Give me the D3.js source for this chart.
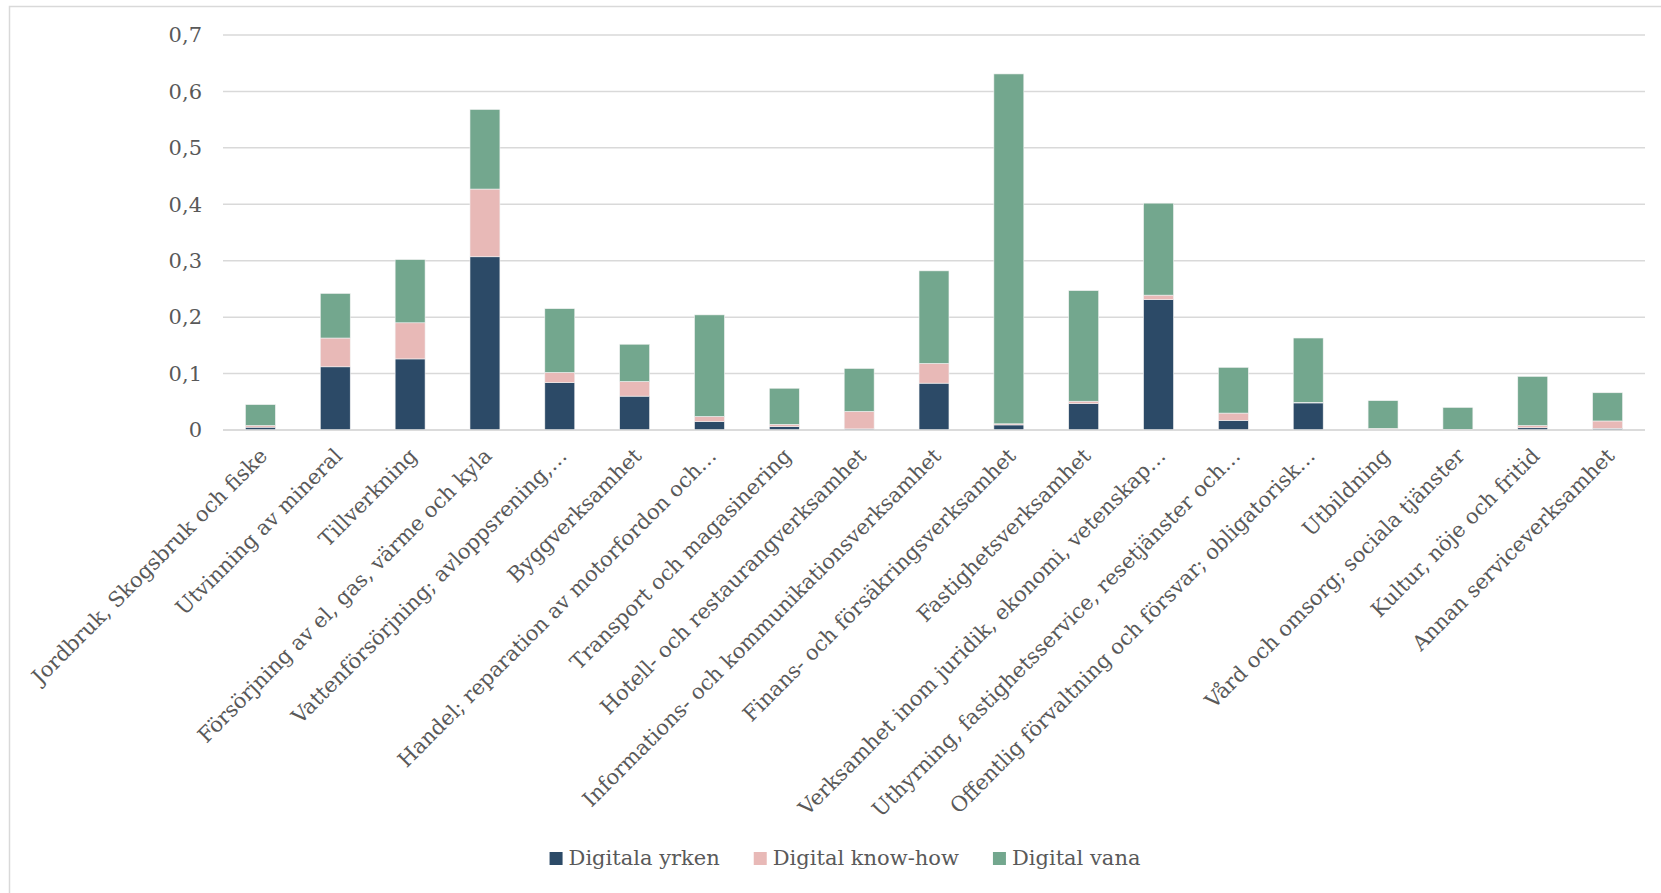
<!DOCTYPE html>
<html>
<head>
<meta charset="utf-8">
<script src="https://cdn.jsdelivr.net/npm/d3@7"></script>
<style>
  html, body { margin: 0; padding: 0; background: #fff; }
  svg { display: block; }
  text { font-family: "DejaVu Serif", "Liberation Serif", serif; fill: #595959; }
</style>
</head>
<body>
<svg id="chart" width="1661" height="893"></svg>
<script>
const categories = [
  "Jordbruk, Skogsbruk och fiske",
  "Utvinning av mineral",
  "Tillverkning",
  "Försörjning av el, gas, värme och kyla",
  "Vattenförsörjning; avloppsrening,…",
  "Byggverksamhet",
  "Handel; reparation av motorfordon och…",
  "Transport och magasinering",
  "Hotell- och restaurangverksamhet",
  "Informations- och kommunikationsverksamhet",
  "Finans- och försäkringsverksamhet",
  "Fastighetsverksamhet",
  "Verksamhet inom juridik, ekonomi, vetenskap…",
  "Uthyrning, fastighetsservice, resetjänster och…",
  "Offentlig förvaltning och försvar; obligatorisk…",
  "Utbildning",
  "Vård och omsorg; sociala tjänster",
  "Kultur, nöje och fritid",
  "Annan serviceverksamhet"
];
const seriesNames = ["Digitala yrken", "Digital know-how", "Digital vana"];
const digitalaYrken   = [0.005, 0.112, 0.126, 0.307, 0.084, 0.060, 0.015, 0.006, 0.002, 0.083, 0.009, 0.047, 0.231, 0.017, 0.048, 0.001, 0.000, 0.004, 0.003];
const digitalKnowHow  = [0.003, 0.051, 0.064, 0.120, 0.018, 0.026, 0.009, 0.004, 0.031, 0.035, 0.002, 0.004, 0.008, 0.013, 0.001, 0.002, 0.001, 0.004, 0.013];
const digitalVana     = [0.037, 0.079, 0.112, 0.141, 0.113, 0.066, 0.180, 0.064, 0.076, 0.164, 0.620, 0.196, 0.163, 0.081, 0.114, 0.049, 0.039, 0.087, 0.050];
const yTicks = [0, 0.1, 0.2, 0.3, 0.4, 0.5, 0.6, 0.7];
const yTickLabels = ["0", "0,1", "0,2", "0,3", "0,4", "0,5", "0,6", "0,7"];
const colors = ["#2C4A67", "#E8B9B7", "#73A78E"];

const svg = d3.select("#chart");

// chart border (Excel chart area)
svg.append("rect")
  .attr("x", 9.5).attr("y", 6.5)
  .attr("width", 1700).attr("height", 1000)
  .attr("fill", "none").attr("stroke", "#d9d9d9").attr("stroke-width", 1.5);

const x = d3.scaleBand().domain(categories).range([223, 1645])
  .paddingInner(0.6).paddingOuter(0.3);
const y = d3.scaleLinear().domain([0, 0.7]).range([430, 35]);

// gridlines
svg.append("g").selectAll("line").data(yTicks).join("line")
  .attr("x1", 223).attr("x2", 1645)
  .attr("y1", d => y(d)).attr("y2", d => y(d))
  .attr("stroke", "#d9d9d9").attr("stroke-width", 1.5);

// y axis labels
const yAxis = d3.axisLeft(y).tickValues(yTicks)
  .tickFormat((d, i) => yTickLabels[i]).tickSize(0).tickPadding(21);
const gy = svg.append("g").attr("transform", "translate(223,0)").call(yAxis);
gy.select(".domain").remove();
gy.selectAll("text").style("font-size", "21px").style("font-family", "DejaVu Serif").attr("fill", "#595959");

// stack data
const rows = categories.map((c, i) => ({
  cat: c,
  "Digitala yrken": digitalaYrken[i],
  "Digital know-how": digitalKnowHow[i],
  "Digital vana": digitalVana[i]
}));
const stacked = d3.stack().keys(seriesNames)(rows);

svg.append("g").selectAll("g").data(stacked).join("g")
  .attr("fill", (d, i) => colors[i])
  .selectAll("rect").data(d => d).join("rect")
  .attr("x", d => x(d.data.cat))
  .attr("width", x.bandwidth())
  .attr("y", d => y(d[1]))
  .attr("height", d => Math.max(0, y(d[0]) - y(d[1])))
  .attr("stroke", "#f2f2f2").attr("stroke-width", 0.6);

// x axis baseline
svg.append("line").attr("x1", 223).attr("x2", 1645)
  .attr("y1", y(0)).attr("y2", y(0))
  .attr("stroke", "#d9d9d9").attr("stroke-width", 1.5);

// category labels, rotated -45
const xAxis = d3.axisBottom(x).tickSize(0).tickPadding(0);
const gx = svg.append("g").attr("transform", `translate(0,${y(0)})`).call(xAxis);
gx.select(".domain").remove();
gx.selectAll("text")
  .style("font-size", "21px").style("font-family", "DejaVu Serif")
  .attr("fill", "#595959")
  .attr("text-anchor", "end")
  .attr("y", 0).attr("dy", "0.35em")
  .attr("transform", "translate(3,22) rotate(-45)");

// legend
const legend = svg.append("g");
const items = legend.selectAll("g").data(seriesNames).join("g");
items.append("rect").attr("width", 13).attr("height", 13)
  .attr("fill", (d, i) => colors[i]);
items.append("text").text(d => d)
  .attr("x", 19).attr("y", 13)
  .style("font-size", "21px");
let lx = 0;
const gap = 34;
items.each(function () {
  const w = this.getBBox().width;
  d3.select(this).attr("data-x", lx);
  lx += w + gap;
});
const totalW = lx - gap;
const startX = 845 - totalW / 2;
items.attr("transform", function () {
  return `translate(${startX + (+d3.select(this).attr("data-x"))},852)`;
});
</script>
</body>
</html>
